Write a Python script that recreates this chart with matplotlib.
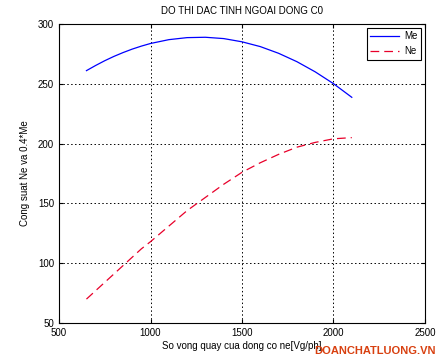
import matplotlib
matplotlib.use("Agg")
import matplotlib.pyplot as plt

plt.rcParams['font.family'] = ['Liberation Sans', 'DejaVu Sans']

rpm = [650, 700, 750, 800, 850, 900, 950, 1000, 1100, 1200, 1300, 1400, 1500,
       1600, 1700, 1800, 1900, 2000, 2100]
me = [261, 265.3, 269.3, 272.9, 276.1, 279, 281.5, 283.7, 286.9, 288.6, 288.9,
      287.8, 285.1, 281.1, 275.5, 268.5, 260, 250.1, 238.7]
ne = [70, 77, 84, 91, 98, 105, 112, 118, 131, 144, 155, 166, 176, 184, 191,
      197, 201, 204, 205]
xticks = [500, 1000, 1500, 2000, 2500]
yticks = [50, 100, 150, 200, 250, 300]

fig = plt.figure(figsize=(4.42, 3.57), dpi=100)
ax = fig.add_axes([0.1335, 0.0952, 0.828, 0.8376])
ax.plot(rpm, me, color='#0000ff', lw=0.9, label='Me')
ax.plot(rpm, ne, color='#e8002a', lw=0.9, ls=(0, (7, 4)), label='Ne')
ax.set_xlim(500, 2500)
ax.set_ylim(50, 300)
ax.set_xticks(xticks)
ax.set_yticks(yticks)
ax.grid(True, color='black', ls=(0, (1.5, 2.5)), lw=0.7)
ax.tick_params(direction='in', labelsize=7, length=3, top=True, right=True)
for s in ax.spines.values():
    s.set_linewidth(0.8)
ax.set_title('DO THI DAC TINH NGOAI DONG C0', fontsize=7, pad=7)
ax.set_xlabel('So vong quay cua dong co ne[Vg/ph]', fontsize=7, labelpad=2)
ax.set_ylabel('Cong suat Ne va 0.4*Me', fontsize=7, labelpad=6)
leg = ax.legend(loc='upper right', fontsize=7, fancybox=False, edgecolor='black',
                framealpha=1, handlelength=3.0, borderaxespad=0.4,
                handletextpad=0.5, borderpad=0.35)
leg.get_frame().set_linewidth(0.8)
fig.text(0.985, 0.004, 'DOANCHATLUONG.VN', color='#d84010', fontsize=8,
         fontweight='bold', ha='right', va='bottom')
fig.savefig('out.png', dpi=100)
